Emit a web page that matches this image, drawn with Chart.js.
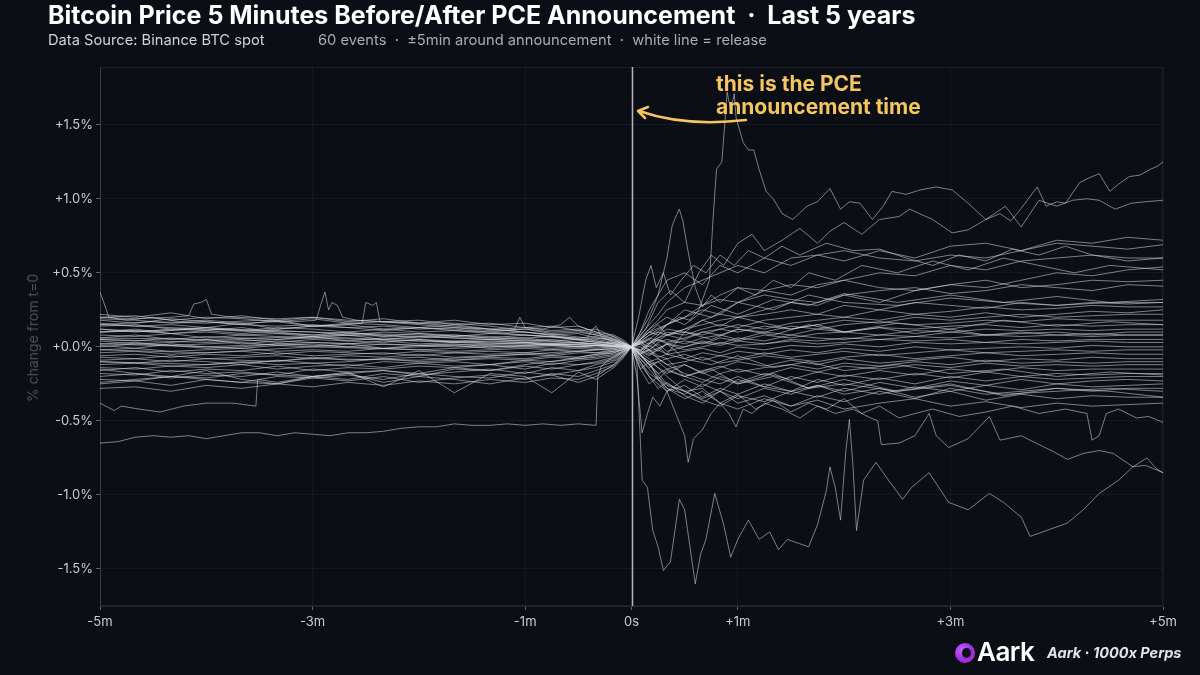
<!DOCTYPE html>
<html><head><meta charset="utf-8">
<script src="https://cdn.jsdelivr.net/npm/chart.js@4"></script>
<style>
html,body{margin:0;padding:0;background:#0b0e14;width:1200px;height:675px;overflow:hidden;font-family:Inter,"Noto Sans",sans-serif}
#wrap{position:relative;width:1200px;height:675px}
canvas{display:block;position:absolute;left:0;top:0}
.t{position:absolute;white-space:pre;line-height:1}
#title{left:48px;top:3px;font-size:25px;font-weight:700;color:#ffffff}
#sub1{left:48px;top:33px;font-size:14.7px;color:#d0d2d6}
#sub2{left:318px;top:33px;font-size:14.7px;color:#a9acb2}
#note{left:716px;top:72px;font-size:21px;font-weight:700;color:#f5c55f;line-height:23px}
#ytitle{left:33px;top:338px;font-size:14px;color:#4b505a;transform:translate(-50%,-50%) rotate(-90deg)}
#brand{left:977px;top:639px;font-size:26px;font-weight:600;color:#ffffff;letter-spacing:-0.5px}
#tag{left:1047px;top:646px;font-size:14.5px;font-weight:700;font-style:italic;color:#e2e3e6}
#logo{position:absolute;left:955px;top:643px;width:20px;height:20px;border-radius:50%;background:radial-gradient(circle at 35% 35%,#c25cff,#9a2ee0 55%,#d42fb8)}
#logo:after{content:"";position:absolute;left:7px;top:5px;width:9px;height:10px;border-radius:50%;background:#0b0e14}
</style>
</head><body>
<div id="wrap">
<canvas id="c" width="1200" height="675"></canvas>
<div class="t" id="title">Bitcoin Price 5 Minutes Before/After PCE Announcement  ·  Last 5 years</div>
<div class="t" id="sub1">Data Source: Binance BTC spot</div>
<div class="t" id="sub2">60 events  ·  ±5min around announcement  ·  white line = release</div>
<div class="t" id="note">this is the PCE
announcement time</div>
<div class="t" id="ytitle">% change from t=0</div>
<div id="logo"></div>
<div class="t" id="brand">Aark</div>
<div class="t" id="tag">Aark · 1000x Perps</div>
</div>
<script>
// ---- time grid (seconds from release) for the common series ----
const gridT = [-300,-280,-260,-240,-220,-200,-180,-160,-140,-120,-100,-80,-60,-45,-30,-20,-10,-5,0,
  5,10,15,20,30,40,50,60,75,90,105,120,140,160,180,200,220,240,260,280,300];

// ---- x / y tick labels ----
const xTickValues = [-300,-180,-60,0,60,180,300];
const xTickLabels = ['-5m','-3m','-1m','0s','+1m','+3m','+5m'];
const yTickValues = [-1.5,-1.0,-0.5,0.0,0.5,1.0,1.5];

// ---- common series (% change), one value per gridT entry ----
const c1  = [0.22,0.2,0.23,0.19,0.21,0.18,0.2,0.17,0.19,0.16,0.18,0.15,0.16,0.13,0.14,0.1,0.08,0.05,0, 0.05,0.1,0.08,0.15,0.2,0.28,0.32,0.3,0.38,0.42,0.4,0.45,0.5,0.48,0.55,0.52,0.58,0.6,0.62,0.58,0.6];
const c2  = [0.2,0.21,0.18,0.2,0.19,0.17,0.19,0.16,0.17,0.18,0.15,0.16,0.13,0.14,0.11,0.12,0.07,0.04,0, -0.05,0.02,0.08,0.12,0.1,0.18,0.22,0.2,0.25,0.3,0.28,0.35,0.3,0.38,0.42,0.4,0.45,0.5,0.48,0.52,0.54];
const c3  = [0.18,0.16,0.19,0.17,0.15,0.18,0.14,0.16,0.15,0.13,0.15,0.12,0.13,0.11,0.12,0.09,0.07,0.03,0, 0.08,0.15,0.22,0.3,0.4,0.45,0.5,0.55,0.5,0.6,0.62,0.58,0.65,0.6,0.68,0.7,0.65,0.72,0.7,0.74,0.72];
const c4  = [0.16,0.14,0.15,0.13,0.16,0.12,0.14,0.13,0.11,0.13,0.12,0.1,0.12,0.09,0.1,0.08,0.05,0.03,0, 0.1,0.2,0.35,0.45,0.5,0.42,0.55,0.5,0.6,0.55,0.62,0.65,0.6,0.58,0.62,0.6,0.65,0.7,0.68,0.66,0.69];
const c5  = [0.14,0.15,0.12,0.13,0.11,0.13,0.12,0.1,0.12,0.1,0.11,0.09,0.1,0.08,0.09,0.06,0.05,0.02,0, 0.05,0.12,0.18,0.25,0.3,0.28,0.35,0.4,0.38,0.35,0.42,0.45,0.4,0.38,0.42,0.45,0.4,0.42,0.45,0.44,0.45];
const c6  = [0.12,0.1,0.12,0.11,0.09,0.11,0.1,0.08,0.1,0.09,0.07,0.09,0.08,0.07,0.06,0.07,0.04,0.02,0, 0.03,0.08,0.1,0.15,0.2,0.25,0.22,0.3,0.35,0.32,0.3,0.35,0.38,0.4,0.36,0.38,0.42,0.4,0.38,0.42,0.41];
const c7  = [0.1,0.11,0.09,0.1,0.08,0.09,0.07,0.09,0.08,0.06,0.08,0.07,0.06,0.07,0.05,0.05,0.03,0.02,0, 0.02,0.05,0.1,0.08,0.12,0.15,0.18,0.2,0.22,0.25,0.22,0.28,0.25,0.3,0.28,0.26,0.3,0.28,0.3,0.29,0.3];
const c8  = [0.08,0.07,0.09,0.06,0.08,0.07,0.06,0.08,0.05,0.07,0.06,0.05,0.06,0.04,0.05,0.03,0.03,0.01,0, -0.02,0.03,0.06,0.1,0.08,0.12,0.15,0.13,0.18,0.2,0.22,0.2,0.25,0.22,0.24,0.27,0.25,0.26,0.28,0.27,0.27];
const c9  = [0.06,0.08,0.05,0.07,0.06,0.05,0.07,0.04,0.06,0.05,0.04,0.05,0.04,0.05,0.03,0.04,0.02,0.01,0, 0.04,0.02,0.06,0.08,0.1,0.08,0.12,0.15,0.12,0.16,0.18,0.2,0.18,0.22,0.2,0.23,0.2,0.22,0.24,0.23,0.25];
const c10 = [0.05,0.04,0.06,0.04,0.05,0.03,0.05,0.04,0.03,0.05,0.03,0.04,0.03,0.02,0.03,0.02,0.02,0.01,0, 0.03,0.06,0.04,0.08,0.05,0.1,0.12,0.1,0.14,0.12,0.15,0.18,0.16,0.2,0.18,0.2,0.22,0.2,0.21,0.22,0.22];
const c11 = [0.04,0.02,0.03,0.05,0.02,0.04,0.03,0.02,0.04,0.02,0.03,0.02,0.03,0.01,0.02,0.02,0.01,0,0, -0.03,0.02,0.05,0.03,0.06,0.1,0.08,0.12,0.1,0.14,0.12,0.15,0.17,0.15,0.16,0.18,0.17,0.19,0.18,0.18,0.18];
const c12 = [0.02,0.03,0.01,0.02,0.03,0.01,0.02,0.0,0.02,0.01,0.02,0.0,0.01,0.02,0.0,0.01,0.01,0,0, 0.02,-0.02,0.03,0.05,0.02,0.06,0.08,0.05,0.1,0.08,0.12,0.1,0.13,0.12,0.14,0.15,0.13,0.15,0.14,0.15,0.15];
const c13 = [0.01,-0.01,0.02,0.0,-0.01,0.01,0.0,0.02,-0.01,0.0,0.01,-0.01,0.0,0.01,0.0,-0.01,0.0,0,0, -0.02,0.01,-0.03,0.02,0.04,0.02,0.06,0.04,0.08,0.06,0.09,0.1,0.08,0.11,0.1,0.12,0.11,0.12,0.11,0.12,0.12];
const c14 = [0.0,0.02,0.01,-0.01,0.0,0.02,0.01,0.0,-0.01,0.01,0.0,0.01,0.0,-0.01,0.0,0.01,0.0,0.0,0, 0.03,0.0,0.05,0.02,0.0,0.04,0.02,0.06,0.04,0.08,0.06,0.05,0.08,0.07,0.1,0.08,0.09,0.1,0.08,0.1,0.1];
const c15 = [-0.02,-0.01,-0.03,-0.02,-0.01,-0.03,-0.02,-0.03,-0.01,-0.02,-0.03,-0.02,-0.01,-0.02,-0.01,-0.02,-0.01,0,0, -0.04,-0.02,0.02,-0.03,0.0,0.03,0.01,0.04,0.02,0.05,0.04,0.06,0.05,0.07,0.06,0.08,0.07,0.08,0.07,0.08,0.08];
const c16 = [-0.04,-0.03,-0.05,-0.04,-0.03,-0.05,-0.03,-0.04,-0.05,-0.03,-0.04,-0.03,-0.04,-0.02,-0.03,-0.02,-0.02,-0.01,0, 0.02,-0.03,-0.01,0.02,-0.02,0.0,0.03,0.01,0.02,0.04,0.02,0.03,0.05,0.04,0.05,0.03,0.05,0.04,0.05,0.05,0.05];
const c17 = [-0.06,-0.05,-0.07,-0.05,-0.06,-0.04,-0.06,-0.05,-0.04,-0.06,-0.04,-0.05,-0.04,-0.05,-0.03,-0.04,-0.02,-0.01,0, -0.03,-0.06,-0.02,-0.05,-0.03,-0.01,-0.04,0.0,-0.02,0.01,0.0,0.02,0.0,0.03,0.02,0.03,0.02,0.03,0.04,0.03,0.03];
const c18 = [-0.07,-0.08,-0.06,-0.08,-0.07,-0.06,-0.08,-0.06,-0.07,-0.05,-0.07,-0.06,-0.05,-0.06,-0.04,-0.04,-0.03,-0.02,0, 0.0,-0.04,-0.07,-0.05,-0.08,-0.04,-0.06,-0.03,-0.05,-0.02,-0.04,-0.01,-0.03,0.0,-0.02,-0.01,0.0,-0.01,0.01,0.0,0.0];
const c19 = [-0.09,-0.08,-0.1,-0.08,-0.09,-0.1,-0.07,-0.09,-0.08,-0.07,-0.09,-0.07,-0.08,-0.06,-0.07,-0.05,-0.04,-0.02,0, -0.05,-0.02,-0.06,-0.08,-0.05,-0.09,-0.06,-0.08,-0.04,-0.07,-0.05,-0.03,-0.06,-0.04,-0.02,-0.04,-0.03,-0.02,-0.03,-0.02,-0.02];
const c20 = [-0.1,-0.11,-0.09,-0.1,-0.12,-0.09,-0.11,-0.1,-0.08,-0.1,-0.09,-0.08,-0.09,-0.07,-0.08,-0.06,-0.04,-0.02,0, -0.06,-0.1,-0.08,-0.12,-0.1,-0.07,-0.11,-0.09,-0.06,-0.08,-0.1,-0.07,-0.05,-0.08,-0.06,-0.04,-0.06,-0.05,-0.04,-0.05,-0.05];
const c21 = [-0.12,-0.11,-0.13,-0.12,-0.1,-0.12,-0.11,-0.13,-0.1,-0.11,-0.1,-0.12,-0.09,-0.1,-0.08,-0.07,-0.05,-0.03,0, -0.08,-0.14,-0.1,-0.15,-0.12,-0.18,-0.14,-0.1,-0.13,-0.09,-0.12,-0.08,-0.11,-0.09,-0.07,-0.1,-0.08,-0.09,-0.07,-0.08,-0.08];
const c22 = [-0.14,-0.15,-0.13,-0.14,-0.12,-0.15,-0.13,-0.12,-0.14,-0.11,-0.13,-0.12,-0.1,-0.12,-0.09,-0.08,-0.06,-0.03,0, -0.05,-0.12,-0.18,-0.15,-0.2,-0.16,-0.13,-0.17,-0.14,-0.12,-0.15,-0.11,-0.13,-0.1,-0.12,-0.09,-0.11,-0.1,-0.11,-0.1,-0.1];
const c23 = [-0.16,-0.14,-0.17,-0.15,-0.16,-0.13,-0.16,-0.14,-0.15,-0.13,-0.14,-0.12,-0.15,-0.11,-0.12,-0.1,-0.07,-0.04,0, -0.1,-0.18,-0.22,-0.16,-0.2,-0.24,-0.18,-0.15,-0.19,-0.14,-0.17,-0.13,-0.15,-0.12,-0.14,-0.11,-0.13,-0.12,-0.13,-0.12,-0.12];
const c24 = [-0.18,-0.19,-0.16,-0.18,-0.17,-0.19,-0.15,-0.17,-0.16,-0.18,-0.14,-0.16,-0.13,-0.15,-0.12,-0.11,-0.08,-0.04,0, -0.12,-0.2,-0.25,-0.3,-0.22,-0.27,-0.2,-0.24,-0.18,-0.22,-0.17,-0.2,-0.16,-0.19,-0.15,-0.17,-0.14,-0.16,-0.15,-0.15,-0.15];
const c25 = [-0.2,-0.18,-0.21,-0.19,-0.2,-0.17,-0.2,-0.18,-0.16,-0.19,-0.17,-0.15,-0.18,-0.14,-0.16,-0.12,-0.09,-0.05,0, -0.15,-0.25,-0.2,-0.28,-0.32,-0.25,-0.3,-0.22,-0.27,-0.2,-0.24,-0.19,-0.22,-0.18,-0.21,-0.17,-0.2,-0.18,-0.19,-0.18,-0.18];
const c26 = [-0.22,-0.23,-0.2,-0.22,-0.24,-0.2,-0.21,-0.19,-0.22,-0.18,-0.2,-0.21,-0.17,-0.19,-0.16,-0.14,-0.1,-0.06,0, -0.08,-0.15,-0.22,-0.3,-0.26,-0.34,-0.28,-0.32,-0.25,-0.3,-0.22,-0.26,-0.21,-0.25,-0.2,-0.23,-0.2,-0.22,-0.21,-0.2,-0.2];
const c27 = [-0.25,-0.23,-0.26,-0.22,-0.24,-0.25,-0.21,-0.23,-0.2,-0.24,-0.21,-0.19,-0.22,-0.18,-0.2,-0.16,-0.12,-0.06,0, -0.1,-0.2,-0.28,-0.24,-0.33,-0.38,-0.3,-0.35,-0.28,-0.32,-0.26,-0.3,-0.24,-0.28,-0.23,-0.26,-0.22,-0.25,-0.23,-0.22,-0.23];
const c28 = [-0.28,-0.27,-0.3,-0.26,-0.28,-0.25,-0.27,-0.24,-0.26,-0.23,-0.25,-0.22,-0.24,-0.21,-0.22,-0.18,-0.13,-0.07,0, -0.05,-0.12,-0.2,-0.26,-0.3,-0.36,-0.4,-0.33,-0.37,-0.3,-0.34,-0.28,-0.32,-0.27,-0.3,-0.26,-0.29,-0.25,-0.27,-0.26,-0.25];
const c29 = [-0.24,-0.22,-0.2,-0.21,-0.18,-0.19,-0.2,-0.17,-0.27,-0.16,-0.31,-0.18,-0.2,-0.31,-0.17,-0.22,-0.14,-0.08,0, -0.15,-0.1,-0.22,-0.28,-0.35,-0.3,-0.38,-0.42,-0.35,-0.4,-0.33,-0.37,-0.3,-0.35,-0.28,-0.32,-0.3,-0.28,-0.3,-0.28,-0.28];
const c30 = [0.19,0.18,0.16,0.17,0.15,0.14,0.15,0.13,0.14,0.12,0.13,0.11,0.12,0.1,0.11,0.08,0.06,0.03,0, 0.04,-0.02,-0.08,-0.12,-0.18,-0.22,-0.25,-0.2,-0.27,-0.3,-0.26,-0.32,-0.28,-0.34,-0.3,-0.36,-0.32,-0.35,-0.33,-0.34,-0.34];
const c31 = [0.1,0.12,0.09,0.11,0.13,0.1,0.08,0.1,0.07,0.09,0.08,0.06,0.08,0.07,0.05,0.06,0.04,0.02,0, -0.06,-0.12,-0.18,-0.25,-0.3,-0.35,-0.3,-0.38,-0.33,-0.4,-0.36,-0.42,-0.38,-0.35,-0.4,-0.37,-0.41,-0.38,-0.4,-0.39,-0.38];
const c32 = [-0.15,-0.18,-0.2,-0.16,-0.22,-0.25,-0.2,-0.18,-0.24,-0.2,-0.22,-0.25,-0.21,-0.19,-0.24,-0.2,-0.12,-0.06,0, 0.05,0.1,0.15,0.08,0.12,0.18,0.14,0.2,0.16,0.12,0.15,0.1,0.13,0.09,0.12,0.08,0.1,0.08,0.09,0.08,0.08];
const coreSeries = [c1,c2,c3,c4,c5,c6,c7,c8,c9,c10,c11,c12,c13,c14,c15,c16,c17,c18,c19,c20,c21,c22,c23,c24,c25,c26,c27,c28,c29,c30,c31,c32];

// ---- distinctive series, [seconds, % change] ----
const spikeUp = [[-300,0.06],[-240,0.05],[-180,0.07],[-120,0.04],[-60,0.03],[-20,0.01],[0,0],[10,0.1],[20,0.15],[27,0.2],[33,0.18],[38,0.25],[44,0.45],[46,0.86],[48,1.2],[51,1.25],[54,1.72],[56,1.6],[58,1.71],[59,1.55],[63,1.38],[66,1.33],[69,1.33],[72,1.2],[76,1.05],[80,1.0],[85,0.9],[91,0.86],[99,0.95],[105,0.98],[112,1.07],[118,0.93],[123,0.98],[129,0.97],[136,0.86],[142,0.95],[147,1.05],[155,1.03],[163,1.06],[172,1.08],[181,1.06],[190,0.97],[200,0.86],[208,0.9],[214,0.85],[219,0.92],[229,1.08],[234,0.95],[240,0.98],[245,0.97],[253,1.11],[258,1.14],[264,1.17],[270,1.05],[275,1.1],[281,1.15],[287,1.16],[293,1.2],[297,1.22],[300,1.25]];
const highDrift = [[-300,-0.02],[-240,-0.04],[-180,0.0],[-120,-0.02],[-60,0.01],[-20,0.0],[0,0],[8,0.12],[15,0.3],[22,0.38],[30,0.3],[38,0.5],[45,0.62],[52,0.55],[60,0.7],[68,0.76],[75,0.65],[85,0.72],[95,0.8],[105,0.7],[112,0.78],[120,0.84],[130,0.76],[140,0.86],[151,0.88],[157,0.93],[170,0.86],[181,0.77],[190,0.79],[200,0.86],[211,0.95],[220,0.81],[230,0.99],[240,0.95],[249,0.99],[257,1.0],[264,0.99],[273,0.93],[282,0.97],[290,0.98],[300,0.99]];
const quickSpike = [[-300,0.1],[-240,0.12],[-180,0.08],[-120,0.07],[-60,0.04],[-20,0.02],[0,0],[5,0.1],[10,0.25],[15,0.35],[20,0.6],[23,0.82],[25,0.88],[27,0.93],[29,0.85],[32,0.64],[36,0.4],[40,0.27],[45,0.35],[50,0.3],[60,0.4],[70,0.35],[80,0.45],[90,0.4],[100,0.5],[115,0.45],[130,0.55],[150,0.5],[170,0.58],[190,0.52],[210,0.6],[230,0.55],[250,0.5],[270,0.55],[300,0.52]];
const fastJump = [[-300,0.02],[-240,0.0],[-180,0.03],[-120,0.01],[-60,0.02],[-20,0.01],[0,0],[4,0.2],[8,0.45],[11,0.55],[14,0.4],[18,0.5],[22,0.35],[28,0.45],[35,0.55],[42,0.5],[50,0.62],[58,0.55],[66,0.65],[75,0.6],[85,0.68],[95,0.62],[110,0.7],[125,0.65],[140,0.66],[155,0.6],[170,0.55],[185,0.62],[200,0.58],[215,0.66],[230,0.62],[245,0.68],[260,0.62],[280,0.6],[300,0.6]];
const dropMid = [[-300,-0.1],[-240,-0.12],[-180,-0.08],[-120,-0.09],[-60,-0.05],[-20,-0.02],[0,0],[3,-0.2],[6,-0.58],[9,-0.45],[12,-0.34],[16,-0.4],[20,-0.3],[25,-0.45],[30,-0.6],[32,-0.78],[35,-0.62],[40,-0.56],[45,-0.45],[50,-0.38],[55,-0.45],[59,-0.54],[63,-0.42],[68,-0.45],[75,-0.38],[85,-0.42],[95,-0.48],[105,-0.4],[115,-0.45],[125,-0.42],[135,-0.48],[139,-0.5],[141,-0.66],[151,-0.65],[160,-0.6],[168,-0.45],[172,-0.6],[179,-0.68],[190,-0.62],[202,-0.47],[205,-0.55],[208,-0.63],[220,-0.6],[230,-0.66],[237,-0.7],[246,-0.76],[255,-0.72],[264,-0.7],[272,-0.72],[283,-0.81],[290,-0.8],[300,-0.85]];
const dropDeep = [[-300,0.05],[-240,0.03],[-180,0.06],[-120,0.04],[-60,0.02],[-20,0.01],[0,0],[3,-0.1],[6,-0.9],[9,-0.95],[12,-1.24],[15,-1.35],[18,-1.51],[22,-1.45],[25,-1.2],[27,-1.03],[30,-1.1],[33,-1.35],[36,-1.6],[39,-1.4],[42,-1.3],[47,-0.99],[52,-1.2],[56,-1.42],[60,-1.3],[66,-1.17],[72,-1.3],[78,-1.25],[83,-1.37],[88,-1.3],[95,-1.33],[100,-1.35],[105,-1.2],[110,-0.97],[112,-0.81],[115,-0.95],[118,-1.17],[121,-0.7],[123,-0.49],[125,-0.8],[127,-1.24],[131,-0.9],[138,-0.78],[145,-0.9],[150,-0.98],[153,-1.03],[158,-0.95],[168,-0.85],[179,-1.05],[190,-1.1],[202,-0.99],[210,-1.05],[220,-1.15],[225,-1.28],[232,-1.25],[246,-1.19],[255,-1.1],[264,-0.99],[275,-0.9],[283,-0.81],[291,-0.75],[296,-0.82],[300,-0.85]];
const lowDrift = [[-300,0.15],[-240,0.12],[-180,0.1],[-120,0.08],[-60,0.05],[-20,0.02],[0,0],[10,-0.08],[20,-0.2],[30,-0.3],[40,-0.28],[50,-0.38],[60,-0.32],[70,-0.42],[80,-0.36],[90,-0.44],[100,-0.38],[110,-0.42],[120,-0.35],[130,-0.45],[140,-0.4],[151,-0.48],[160,-0.45],[170,-0.42],[185,-0.47],[200,-0.44],[215,-0.4],[230,-0.45],[245,-0.42],[257,-0.45],[260,-0.63],[264,-0.6],[268,-0.45],[275,-0.42],[285,-0.48],[292,-0.47],[300,-0.51]];
const preLow = [[-300,-0.65],[-290,-0.64],[-280,-0.61],[-270,-0.6],[-260,-0.61],[-250,-0.6],[-240,-0.62],[-230,-0.6],[-220,-0.58],[-210,-0.58],[-200,-0.6],[-190,-0.58],[-180,-0.59],[-170,-0.6],[-160,-0.58],[-150,-0.58],[-140,-0.57],[-130,-0.55],[-120,-0.54],[-110,-0.54],[-100,-0.52],[-90,-0.53],[-80,-0.53],[-70,-0.52],[-60,-0.53],[-50,-0.52],[-40,-0.53],[-30,-0.52],[-20,-0.53],[-19,-0.2],[-17,-0.13],[-12,-0.08],[-6,-0.04],[0,0],[10,0.05],[20,-0.05],[30,0.1],[45,0.05],[60,0.12],[80,0.08],[100,0.15],[120,0.1],[150,0.16],[180,0.12],[210,0.18],[240,0.14],[270,0.17],[300,0.15]];
const preStep = [[-300,-0.38],[-292,-0.43],[-288,-0.4],[-278,-0.42],[-266,-0.44],[-253,-0.4],[-240,-0.38],[-225,-0.38],[-212,-0.4],[-211,-0.22],[-200,-0.24],[-180,-0.2],[-160,-0.22],[-140,-0.18],[-120,-0.2],[-100,-0.15],[-80,-0.16],[-60,-0.12],[-40,-0.09],[-20,-0.05],[-10,-0.03],[0,0],[10,-0.1],[20,-0.18],[30,-0.12],[45,-0.2],[60,-0.25],[80,-0.2],[100,-0.28],[120,-0.25],[150,-0.3],[180,-0.26],[210,-0.32],[240,-0.3],[270,-0.28],[300,-0.3]];
const preHighStart = [[-300,0.37],[-297,0.27],[-295,0.2],[-285,0.18],[-270,0.2],[-255,0.17],[-240,0.18],[-220,0.16],[-200,0.17],[-180,0.14],[-160,0.15],[-140,0.12],[-120,0.13],[-100,0.11],[-80,0.1],[-60,0.08],[-40,0.06],[-20,0.03],[-10,0.02],[0,0],[10,0.08],[20,0.15],[30,0.25],[45,0.2],[60,0.3],[80,0.25],[100,0.35],[120,0.3],[150,0.28],[180,0.33],[210,0.3],[240,0.28],[270,0.3],[300,0.32]];
const preSpikeA = [[-300,0.15],[-270,0.17],[-240,0.16],[-210,0.18],[-190,0.17],[-178,0.18],[-175,0.3],[-173,0.37],[-171,0.25],[-169,0.3],[-166,0.28],[-163,0.2],[-155,0.18],[-140,0.17],[-120,0.16],[-100,0.14],[-80,0.12],[-60,0.1],[-40,0.07],[-20,0.04],[0,0],[10,-0.05],[20,0.02],[30,-0.08],[45,-0.12],[60,-0.06],[80,-0.14],[100,-0.1],[120,-0.16],[150,-0.12],[180,-0.18],[210,-0.15],[240,-0.2],[270,-0.17],[300,-0.19]];
const preSpikeB = [[-300,0.12],[-270,0.1],[-240,0.13],[-210,0.11],[-180,0.14],[-160,0.15],[-152,0.16],[-150,0.3],[-146,0.28],[-144,0.3],[-142,0.17],[-120,0.15],[-100,0.13],[-80,0.12],[-60,0.1],[-40,0.08],[-25,0.06],[-22,0.12],[-20,0.14],[-17,0.07],[-10,0.03],[0,0],[10,0.12],[20,0.2],[30,0.15],[45,0.28],[60,0.22],[80,0.32],[100,0.28],[120,0.36],[150,0.3],[180,0.35],[210,0.3],[240,0.34],[270,0.3],[300,0.3]];
const preSpikeC = [[-300,0.2],[-280,0.19],[-260,0.2],[-250,0.21],[-247,0.29],[-243,0.3],[-240,0.32],[-237,0.22],[-225,0.2],[-200,0.19],[-180,0.2],[-160,0.18],[-140,0.17],[-120,0.16],[-100,0.16],[-80,0.14],[-66,0.12],[-63,0.2],[-60,0.13],[-50,0.12],[-40,0.15],[-35,0.2],[-30,0.14],[-20,0.1],[-10,0.05],[0,0],[10,-0.12],[20,-0.08],[30,-0.2],[45,-0.15],[60,-0.25],[80,-0.18],[100,-0.28],[120,-0.22],[150,-0.3],[180,-0.25],[210,-0.33],[240,-0.28],[270,-0.3],[300,-0.34]];
const specialSeries = [spikeUp,highDrift,quickSpike,fastJump,dropMid,dropDeep,lowDrift,preLow,preStep,preHighStart,preSpikeA,preSpikeB,preSpikeC];

// ---- build datasets ----
const lineColor = 'rgba(216,218,224,0.55)';
const datasets = [];
coreSeries.forEach(vals => {
  const n = Math.min(vals.length, gridT.length);
  const d = [];
  for (let i = 0; i < n; i++) d.push({x: gridT[i], y: vals[i]});
  datasets.push({data: d, borderColor: lineColor, borderWidth: 1, pointRadius: 0, fill: false, tension: 0});
});
specialSeries.forEach(p => {
  datasets.push({data: p.map(([x, y]) => ({x, y})), borderColor: lineColor, borderWidth: 1, pointRadius: 0, fill: false, tension: 0});
});

const overlay = {
  id: 'overlay',
  afterDatasetsDraw(chart) {
    const {ctx, chartArea: a, scales: {x, y}} = chart;
    ctx.save();
    ctx.strokeStyle = 'rgba(255,255,255,0.07)';
    ctx.lineWidth = 1;
    ctx.strokeRect(a.left + 0.5, a.top + 0.5, a.right - a.left - 1, a.bottom - a.top - 1);
    const x0 = Math.round(x.getPixelForValue(0)) + 0.5;
    ctx.strokeStyle = 'rgba(235,236,240,0.75)';
    ctx.lineWidth = 1.5;
    ctx.beginPath(); ctx.moveTo(x0, a.top); ctx.lineTo(x0, a.bottom); ctx.stroke();
    ctx.strokeStyle = '#f5c55f';
    ctx.lineWidth = 2.5;
    ctx.lineCap = 'round';
    ctx.lineJoin = 'round';
    ctx.beginPath();
    ctx.moveTo(746, 120);
    ctx.quadraticCurveTo(685, 127, 639, 111);
    ctx.stroke();
    ctx.beginPath();
    ctx.moveTo(648, 107); ctx.lineTo(638, 111); ctx.lineTo(645, 118);
    ctx.stroke();
    ctx.restore();
  }
};

new Chart(document.getElementById('c'), {
  type: 'line',
  data: {datasets},
  options: {
    responsive: false,
    animation: false,
    events: [],
    layout: {padding: {top: 67, right: 37, left: 0, bottom: 0}},
    plugins: {legend: {display: false}, tooltip: {enabled: false}, title: {display: false}},
    elements: {line: {borderWidth: 1}, point: {radius: 0}},
    scales: {
      x: {
        type: 'linear', min: -300, max: 300,
        afterBuildTicks: s => { s.ticks = xTickValues.map(v => ({value: v})); },
        afterFit: s => { s.height = 69; },
        ticks: {
          color: '#c9cbd0', font: {family: 'Inter', size: 13}, padding: 4, maxRotation: 0, autoSkip: false,
          callback: v => { const i = xTickValues.indexOf(v); return i >= 0 ? xTickLabels[i] : ''; }
        },
        grid: {color: 'rgba(255,255,255,0.045)', tickColor: 'rgba(255,255,255,0.35)', tickLength: 4},
        border: {color: 'rgba(255,255,255,0.1)'}
      },
      y: {
        type: 'linear', min: -1.75, max: 1.89,
        afterBuildTicks: s => { s.ticks = yTickValues.map(v => ({value: v})); },
        afterFit: s => { s.width = 100; },
        ticks: {
          color: '#c9cbd0', font: {family: 'Inter', size: 13}, padding: 3,
          callback: v => (v >= 0 ? '+' : '-') + Math.abs(v).toFixed(1) + '%'
        },
        grid: {color: 'rgba(255,255,255,0.045)', tickColor: 'rgba(255,255,255,0.35)', tickLength: 4},
        border: {color: 'rgba(255,255,255,0.1)'}
      }
    }
  },
  plugins: [overlay]
});
</script>
</body></html>
